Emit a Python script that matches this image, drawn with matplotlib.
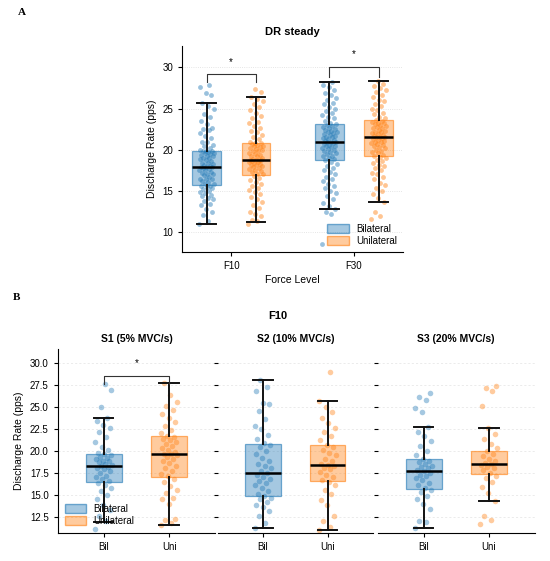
import numpy as np
import matplotlib
matplotlib.use("Agg")
import matplotlib.pyplot as plt
from matplotlib.patches import Patch

plt.rcParams['font.family'] = ['Liberation Sans', 'DejaVu Sans']

BLUE = '#1f77b4'
ORANGE = '#ff7f0e'

# ---------------- Panel A data: DR steady, per force level ----------------
force_levels = ['F10', 'F30']

f10_bil = [11.0, 11.4, 12.1, 12.5, 12.8, 13.3, 13.4, 13.8, 14.0, 14.1, 14.4, 14.5, 14.7, 14.9, 15.0,
           15.2, 15.3, 15.5, 15.6, 15.6, 15.8, 15.9, 16.1, 16.2, 16.4, 16.5, 16.5, 16.7, 16.9, 17.0,
           17.0, 17.2, 17.3, 17.5, 17.6, 17.7, 17.8, 17.9, 17.9, 17.9, 18.0, 18.1, 18.3, 18.4, 18.4,
           18.6, 18.7, 18.9, 19.0, 19.0, 19.2, 19.3, 19.4, 19.5, 19.6, 19.6, 19.7, 19.8, 19.8, 19.8,
           20.0, 20.2, 20.5, 20.6, 20.9, 21.0, 21.4, 21.7, 22.0, 22.4, 22.5, 22.6, 23.1, 23.5, 24.0,
           24.3, 24.9, 25.3, 25.7, 26.7, 26.9, 27.6, 27.9]
f10_uni = [11.0, 11.3, 11.5, 11.9, 12.2, 12.4, 12.9, 13.3, 13.6, 14.0, 14.3, 14.6, 14.9, 15.1, 15.4,
           15.6, 15.9, 16.1, 16.3, 16.6, 16.8, 17.0, 17.1, 17.3, 17.4, 17.5, 17.7, 17.8, 17.9, 18.0,
           18.1, 18.2, 18.3, 18.4, 18.5, 18.5, 18.6, 18.7, 18.7, 18.7, 18.8, 18.9, 19.0, 19.2, 19.3,
           19.4, 19.5, 19.6, 19.8, 19.9, 20.0, 20.1, 20.2, 20.3, 20.4, 20.5, 20.6, 20.7, 20.8, 20.8,
           21.0, 21.3, 21.5, 21.8, 22.1, 22.3, 22.6, 22.9, 23.2, 23.4, 23.8, 24.1, 24.5, 24.8, 25.2,
           25.5, 25.9, 26.2, 26.4, 27.0, 27.4]
f30_bil = [8.6, 12.2, 12.5, 12.8, 13.2, 13.5, 14.0, 14.4, 14.7, 15.0, 15.3, 15.6, 15.9, 16.2, 16.5,
           16.7, 17.0, 17.3, 17.5, 17.8, 18.0, 18.3, 18.5, 18.7, 18.9, 19.0, 19.2, 19.3, 19.5, 19.6,
           19.7, 19.9, 20.0, 20.1, 20.2, 20.3, 20.4, 20.5, 20.6, 20.7, 20.8, 20.9, 21.0, 21.0, 21.1,
           21.2, 21.3, 21.4, 21.5, 21.6, 21.7, 21.8, 21.9, 22.0, 22.1, 22.2, 22.3, 22.4, 22.5, 22.6,
           22.8, 22.9, 23.0, 23.1, 23.3, 23.5, 23.8, 24.0, 24.2, 24.5, 24.7, 25.0, 25.2, 25.5, 25.7,
           26.0, 26.3, 26.6, 26.9, 27.2, 27.6, 27.9, 28.2]
f30_uni = [11.6, 12.0, 12.4, 13.7, 14.1, 14.6, 15.0, 15.3, 15.7, 16.0, 16.4, 16.7, 17.0, 17.2, 17.5,
           17.8, 18.0, 18.2, 18.4, 18.6, 18.8, 19.0, 19.1, 19.3, 19.4, 19.6, 19.7, 19.9, 20.0, 20.2,
           20.3, 20.4, 20.6, 20.7, 20.8, 20.9, 21.0, 21.1, 21.2, 21.3, 21.4, 21.5, 21.5, 21.6, 21.7,
           21.8, 21.9, 22.0, 22.1, 22.2, 22.3, 22.4, 22.6, 22.7, 22.8, 22.9, 23.0, 23.1, 23.2, 23.3,
           23.4, 23.5, 23.6, 23.8, 24.0, 24.3, 24.5, 24.8, 25.0, 25.3, 25.6, 25.9, 26.1, 26.4, 26.7,
           27.0, 27.2, 27.5, 27.8, 28.0, 28.3]

# box stats: [F10 bil, F10 uni, F30 bil, F30 uni]
a_whislo = [11.0, 11.25, 12.8, 13.7]
a_q1 = [15.7, 16.9, 18.8, 19.2]
a_med = [17.9, 18.7, 21.0, 21.5]
a_q3 = [19.8, 20.8, 23.1, 23.6]
a_whishi = [25.7, 26.4, 28.2, 28.3]

# ---------------- Panel B data: F10 per slope ----------------
slopes = ['S1 (5% MVC/s)', 'S2 (10% MVC/s)', 'S3 (20% MVC/s)']
conditions = ['Bil', 'Uni']

s1_bil = [11.1, 12.0, 12.6, 13.3, 13.9, 14.5, 15.0, 15.4, 15.8, 16.1, 16.4, 16.6, 16.8, 17.0, 17.2,
          17.5, 17.7, 17.9, 18.0, 18.2, 18.3, 18.4, 18.5, 18.7, 18.8, 18.9, 19.1, 19.2, 19.3, 19.5,
          19.6, 19.8, 20.1, 20.5, 21.0, 21.6, 22.2, 22.6, 23.0, 23.4, 23.7, 25.0, 26.9, 27.6]
s1_uni = [11.6, 11.8, 12.1, 12.3, 14.0, 14.5, 14.7, 15.2, 15.6, 16.0, 16.5, 16.8, 17.1, 17.4, 17.7,
          18.0, 18.3, 18.6, 18.9, 19.1, 19.3, 19.5, 19.6, 19.7, 19.9, 20.1, 20.3, 20.6, 20.8, 21.0,
          21.2, 21.4, 21.6, 21.7, 22.0, 22.4, 22.8, 23.3, 23.7, 24.2, 24.7, 25.1, 25.6, 26.4, 27.7]
s2_bil = [11.2, 11.8, 12.6, 13.2, 13.6, 13.9, 14.2, 14.5, 14.7, 14.9, 15.1, 15.4, 15.8, 16.1, 16.4,
          16.6, 16.8, 17.0, 17.3, 17.5, 17.7, 18.0, 18.3, 18.5, 18.9, 19.2, 19.6, 20.0, 20.4, 20.7,
          20.9, 21.3, 21.8, 22.5, 22.8, 23.6, 24.5, 25.3, 25.5, 26.8, 27.3, 28.1]
s2_uni = [10.95, 11.3, 12.0, 12.6, 13.8, 14.4, 15.1, 15.6, 16.1, 16.5, 16.7, 17.0, 17.3, 17.6, 17.9,
          18.1, 18.3, 18.4, 18.5, 18.8, 19.1, 19.5, 19.8, 20.1, 20.4, 20.7, 21.2, 21.7, 22.2, 22.6,
          23.2, 23.8, 24.4, 25.0, 25.7, 29.0]
s3_bil = [11.2, 11.9, 12.0, 13.4, 14.0, 14.5, 14.9, 15.3, 15.6, 15.8, 16.1, 16.4, 16.7, 16.9, 17.1,
          17.3, 17.5, 17.7, 17.8, 18.0, 18.2, 18.3, 18.5, 18.7, 18.9, 19.1, 19.5, 20.0, 20.6, 21.1,
          21.7, 22.2, 22.7, 24.4, 24.9, 25.8, 26.1, 26.6]
s3_uni = [11.7, 12.1, 12.6, 14.3, 15.2, 15.9, 16.5, 16.9, 17.2, 17.5, 17.8, 18.0, 18.2, 18.4, 18.5,
          18.6, 18.8, 19.1, 19.4, 19.7, 20.0, 20.3, 20.8, 21.3, 21.9, 22.6, 25.1, 26.8, 27.2, 27.4]

# box stats per slope: [bil, uni]
b_whislo = [[11.95, 11.6], [11.2, 10.95], [11.2, 14.3]]
b_q1 = [[16.5, 17.0], [14.9, 16.6], [15.7, 17.35]]
b_med = [[18.3, 19.6], [17.5, 18.4], [17.7, 18.55]]
b_q3 = [[19.6, 21.7], [20.75, 20.7], [19.1, 20.0]]
b_whishi = [[23.75, 27.75], [28.1, 25.7], [22.7, 22.65]]


def jitter(n, width):
    # deterministic spread (golden ratio sequence), no random numbers
    return (((np.arange(n) * 0.618034) % 1.0) - 0.5) * width


def draw_boxes(ax, positions, colors, whislo, q1, med, q3, whishi, width, capw):
    stats = []
    for i in range(len(positions)):
        stats.append(dict(whislo=whislo[i], q1=q1[i], med=med[i], q3=q3[i], whishi=whishi[i], fliers=[]))
    bp = ax.bxp(stats, positions=positions, widths=width, capwidths=capw, patch_artist=True,
                showfliers=False, manage_ticks=False,
                whiskerprops=dict(color='#111111', lw=1.4, zorder=3),
                capprops=dict(color='#111111', lw=1.4, zorder=3),
                medianprops=dict(color='black', lw=1.8, zorder=4),
                boxprops=dict(lw=0.9, zorder=1))
    for patch, c in zip(bp['boxes'], colors):
        patch.set_facecolor(matplotlib.colors.to_rgba(c, 0.4))
        patch.set_edgecolor(matplotlib.colors.to_rgba(c, 0.6))
    return bp


def bracket(ax, x1, x2, y_top, y_leg, y_star, fs):
    ax.plot([x1, x1, x2, x2], [y_leg, y_top, y_top, y_leg], color='#333333', lw=0.8, zorder=5)
    ax.text((x1 + x2) / 2, y_star, '*', ha='center', va='center', fontsize=fs)


fig = plt.figure(figsize=(5.5, 5.61), dpi=100)

# ---------------- Panel A ----------------
axA = fig.add_axes([0.331, 0.551, 0.402, 0.367])
groups_a = [f10_bil, f10_uni, f30_bil, f30_uni]
pos_a = [-0.2, 0.2, 0.8, 1.2]
cols_a = [BLUE, ORANGE, BLUE, ORANGE]
for vals, p, c in zip(groups_a, pos_a, cols_a):
    axA.scatter(p + jitter(len(vals), 0.12), vals, s=12, color=c, alpha=0.45, lw=0, zorder=2)
draw_boxes(axA, pos_a, cols_a, a_whislo, a_q1, a_med, a_q3, a_whishi, 0.23, 0.15)
bracket(axA, -0.2, 0.2, 29.2, 28.2, 30.65, 7)
bracket(axA, 0.8, 1.2, 30.0, 28.8, 31.6, 7)

axA.set_xlim(-0.4, 1.4)
axA.set_ylim(7.6, 32.6)
axA.set_xticks([0, 1])
axA.set_xticklabels(force_levels)
axA.set_yticks([10, 15, 20, 25, 30])
axA.yaxis.grid(True, ls=':', lw=0.6, color='#dddddd')
axA.set_axisbelow(True)
for s in ['top', 'right']:
    axA.spines[s].set_visible(False)
axA.tick_params(labelsize=7, length=3, width=0.8)
axA.set_ylabel('Discharge Rate (pps)', fontsize=7.5)
axA.set_xlabel('Force Level', fontsize=7.5, labelpad=3)
axA.set_title('DR steady', fontsize=8, fontweight='bold', pad=8)
handles = [Patch(facecolor=matplotlib.colors.to_rgba(BLUE, 0.4), edgecolor=matplotlib.colors.to_rgba(BLUE, 0.6), label='Bilateral'),
           Patch(facecolor=matplotlib.colors.to_rgba(ORANGE, 0.4), edgecolor=matplotlib.colors.to_rgba(ORANGE, 0.6), label='Unilateral')]
axA.legend(handles=handles, loc='lower right', frameon=False, fontsize=7, handlelength=2.2,
           handleheight=1.0, labelspacing=0.2, borderaxespad=0.2, bbox_to_anchor=(1.0, 0.0))

fig.text(0.033, 0.977, 'A', family='Liberation Serif', fontweight='bold', fontsize=8, va='center')

# ---------------- Panel B ----------------
groups_b = [[s1_bil, s1_uni], [s2_bil, s2_uni], [s3_bil, s3_uni]]
lefts = [0.105, 0.396, 0.687]
widths = [0.286, 0.282, 0.285]
axes_b = []
for k in range(3):
    ax = fig.add_axes([lefts[k], 0.0505, widths[k], 0.3275])
    axes_b.append(ax)
    for j, (vals, c) in enumerate(zip(groups_b[k], [BLUE, ORANGE])):
        ax.scatter(j + jitter(len(vals), 0.26), vals, s=16, color=c, alpha=0.4, lw=0, zorder=2)
    draw_boxes(ax, [0, 1], [BLUE, ORANGE], b_whislo[k], b_q1[k], b_med[k], b_q3[k], b_whishi[k], 0.55, 0.3)
    ax.set_xlim(-0.7, 1.7)
    ax.set_ylim(10.7, 31.6)
    ax.set_xticks([0, 1])
    ax.set_xticklabels(conditions)
    ax.set_yticks([12.5, 15.0, 17.5, 20.0, 22.5, 25.0, 27.5, 30.0])
    ax.yaxis.grid(True, ls=(0, (3, 3)), lw=0.5, color='#e3e3e3')
    ax.set_axisbelow(True)
    for s in ['top', 'right']:
        ax.spines[s].set_visible(False)
    ax.tick_params(labelsize=7, length=3, width=0.8)
    ax.set_title(slopes[k], fontsize=7.5, fontweight='bold', pad=5)
    if k > 0:
        ax.spines['left'].set_visible(False)
        ax.tick_params(axis='y', labelleft=False)

axes_b[0].set_ylabel('Discharge Rate (pps)', fontsize=7.5)
bracket(axes_b[0], 0, 1, 28.55, 27.6, 30.0, 7)
axes_b[0].legend(handles=handles, loc='lower left', frameon=False, fontsize=7, handlelength=2.2,
                 handleheight=1.0, labelspacing=0.2, borderaxespad=0.3)

fig.text(0.505, 0.437, 'F10', fontsize=8, fontweight='bold', ha='center', va='center')
fig.text(0.024, 0.47, 'B', family='Liberation Serif', fontweight='bold', fontsize=8, va='center')

fig.savefig('out.png', dpi=100)
